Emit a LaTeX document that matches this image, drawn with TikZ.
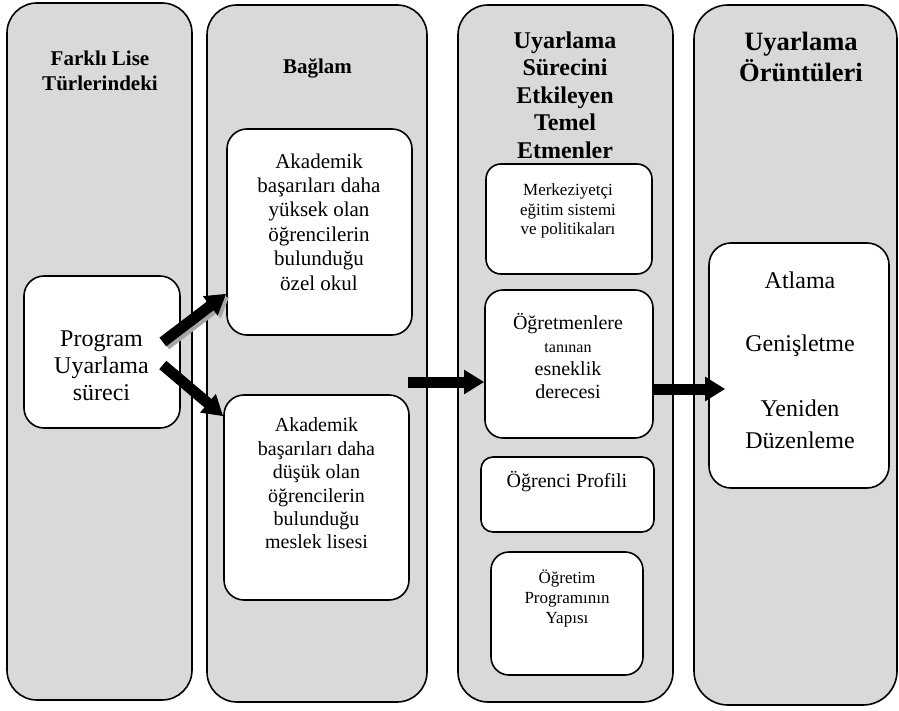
\documentclass[tikz,border=0pt]{standalone}
\usepackage{fontspec}
\setmainfont{Liberation Serif}
\usetikzlibrary{arrows.meta}
\newcommand{\fs}[2]{\fontsize{#1}{#2}\selectfont}

\begin{document}
\begin{tikzpicture}
                \tikzset{x=1pt, y=-1pt}
                \tikzstyle{column}=[rectangle, draw, line width=1.6pt, rounded corners=30pt, fill=black!15, minimum height=697pt]
                \tikzstyle{card}=[rectangle, draw, line width=1.6pt, fill=white, rounded corners=18pt]
                \tikzstyle{head}=[align=center, font=\bfseries\fs{21}{25}]
                \tikzstyle{body}=[align=center, font=\fs{20}{23.4}]
                \tikzstyle{push}=[line width=11pt, -{Triangle[length=20pt, width=23pt]}]
                \tikzstyle{shade}=[push, draw=black!35]

                \useasboundingbox (0, 0) rectangle (899, 711);

                \draw (99.5, 351.5) node[column, minimum width=185pt]               (c1) {};
                \draw (317.0, 353.5) node[column, minimum width=220pt]              (c2) {};
                \draw (565.5, 353.5) node[column, minimum width=215pt]              (c3) {};
                \draw (795.5, 355.0) node[column, minimum width=203pt, minimum height=700pt, rounded corners=34pt] (c4) {};

                \draw (100.0, 70.5)  node[head]                                    (h1) {Farklı Lise\\Türlerindeki};
                \draw (317.5, 68.0)  node[head]                                    (h2) {Bağlam};
                \draw (565.0, 95.0)  node[head, font=\bfseries\fs{24}{27.5}]       (h3) {Uyarlama\\Sürecini\\Etkileyen\\Temel\\Etmenler};
                \draw (801.0, 57.0)  node[head, font=\bfseries\fs{26.5}{31}]       (h4) {Uyarlama\\Örüntüleri};

                \draw (102.0, 352.0) node[card, minimum width=156pt, minimum height=152pt, rounded corners=20pt] (prog) {};
                \draw (319.5, 232.0) node[card, minimum width=185pt, minimum height=206pt, rounded corners=20pt] (hi)   {};
                \draw (316.5, 497.5) node[card, minimum width=185pt, minimum height=205pt, rounded corners=20pt] (lo)   {};
                \draw (569.0, 219.0) node[card, minimum width=166pt, minimum height=110pt, rounded corners=15pt] (mer)  {};
                \draw (569.0, 364.0) node[card, minimum width=168pt, minimum height=148pt]                       (tol)  {};
                \draw (567.5, 494.5) node[card, minimum width=173pt, minimum height=75pt, rounded corners=12pt]  (pro)  {};
                \draw (567.0, 613.5) node[card, minimum width=152pt, minimum height=123pt]                       (yap)  {};
                \draw (799.0, 365.5) node[card, minimum width=180pt, minimum height=245pt, rounded corners=22pt] (atl)  {};

                \draw (101.5, 366.0) node[body, font=\fs{24}{27}]                  (t-prog) {Program\\Uyarlama\\süreci};
                \draw (319.0, 222.0) node[body, font=\fs{21}{24.4}]                (t-hi)   {Akademik\\başarıları daha\\yüksek olan\\öğrencilerin\\bulunduğu\\özel okul};
                \draw (316.5, 483.5) node[body]                                    (t-lo)   {Akademik\\başarıları daha\\düşük olan\\öğrencilerin\\bulunduğu\\meslek lisesi};
                \draw (568.0, 211.0) node[body, font=\fs{17}{19.5}]                (t-mer)  {Merkeziyetçi\\eğitim sistemi\\ve politikaları};
                \draw (568.0, 356.0) node[body, font=\fs{20}{23}]                  (t-tol)  {Öğretmenlere\\{\fs{16}{23}tanınan}\\esneklik\\derecesi};
                \draw (567.0, 482.0) node[body]                                    (t-pro)  {Öğrenci Profili};
                \draw (567.0, 598.0) node[body, font=\fs{17}{20}]                  (t-yap)  {Öğretim\\Programının\\Yapısı};
                \draw (800.0, 360.0) node[body, font=\fs{24}{32}]                  (t-atl)  {Atlama\\[31pt]Genişletme\\[33pt]Yeniden\\Düzenleme};

                \coordinate (gap) at (408, 382);

                \draw [shade]       ([xshift=-15pt, yshift=7pt]prog.east)   -- ([xshift=3pt, yshift=39pt]hi.south west);
                \draw [push]        ([xshift=-18pt, yshift=10pt]prog.east)  -- ([yshift=42pt]hi.south west);
                \draw [push]        ([xshift=-18pt, yshift=-13pt]prog.east) -- ([yshift=-22pt]lo.north west);
                \draw [push]        (gap)                                   -- ([yshift=-18pt]tol.west);
                \draw [push]        ([yshift=-25pt]tol.east)                -- ([xshift=17pt, yshift=-23.5pt]atl.west);
\end{tikzpicture}
\end{document}
